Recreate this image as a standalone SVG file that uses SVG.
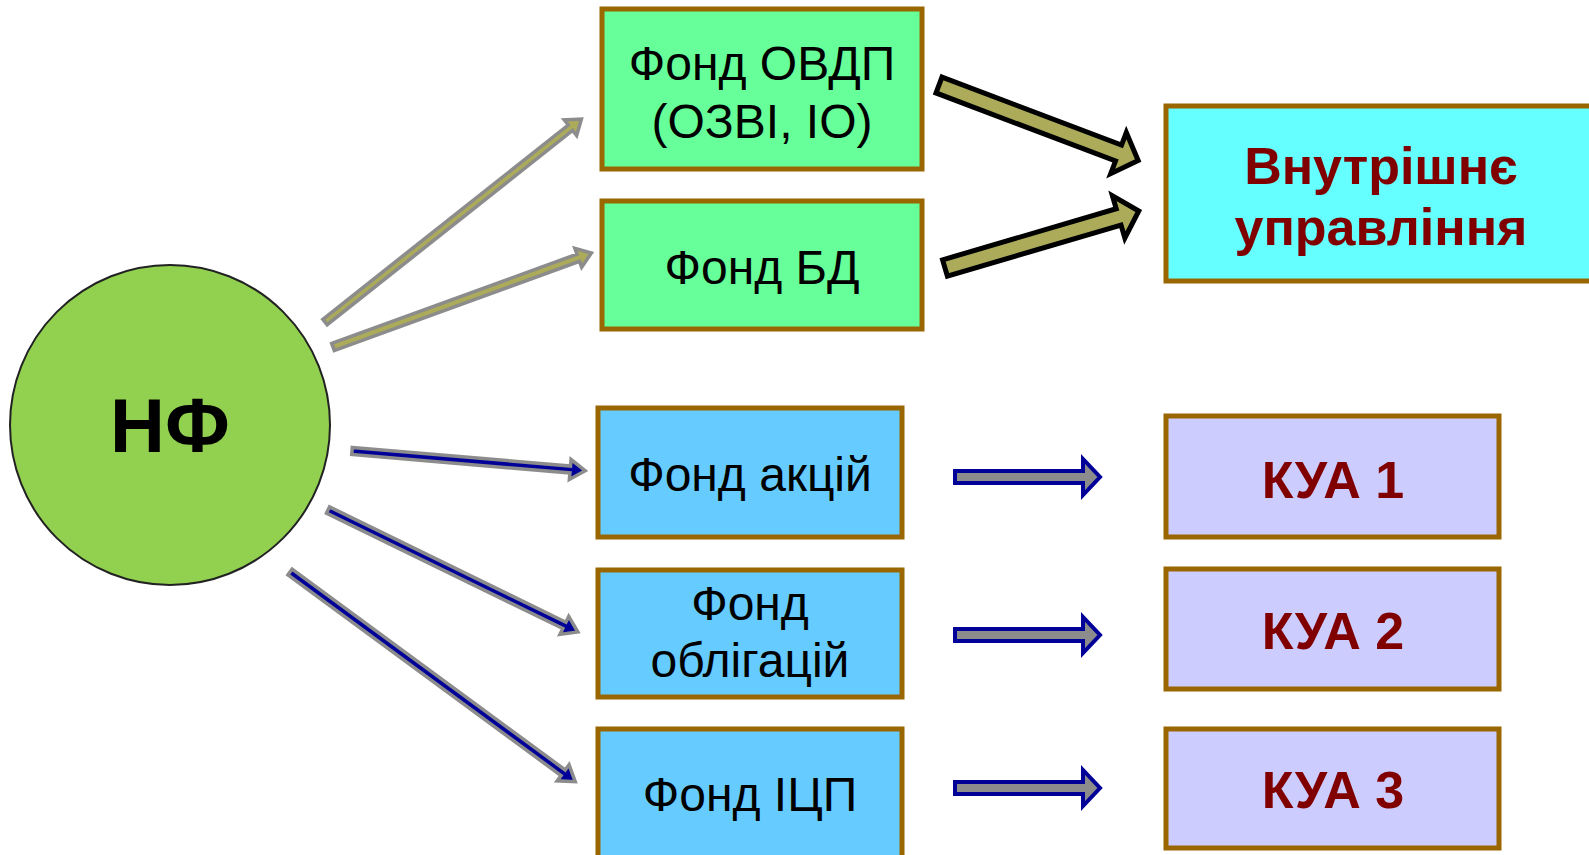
<svg xmlns="http://www.w3.org/2000/svg" width="1589" height="855" viewBox="0 0 1589 855">
<style>
.box{stroke:#996600;stroke-width:5}
.g{fill:#66FF99}.c{fill:#66FFFF}.b{fill:#66CCFF}.v{fill:#CCCCFF}
.t{font-family:"Liberation Sans",Arial,sans-serif;font-size:48px;fill:#000;text-anchor:middle}
.r{font-family:"Liberation Sans",Arial,sans-serif;font-size:52px;font-weight:bold;fill:#800000;text-anchor:middle}
.ag{fill:#ABAB5A;stroke:#8C8C8C;stroke-width:3.5;stroke-linejoin:miter}
.ao{fill:#ABAB5A;stroke:#000;stroke-width:5;stroke-linejoin:miter}
.ab{fill:#000099;stroke:#8C8C8C;stroke-width:3.5;stroke-linejoin:miter}
.ah{fill:#8C8C8C;stroke:#000099;stroke-width:4;stroke-linejoin:miter}
</style>
<rect width="1589" height="855" fill="#fff"/>
<g id="connectors">
<polygon class="ag" transform="translate(325,322) rotate(-38.36)" points="0,-3.5 313,-3.5 313,-10 327,0 313,10 313,3.5 0,3.5"/>
<polygon class="ag" transform="translate(333,347) rotate(-20)" points="0,-3.8 261,-3.8 261,-10 275,0 261,10 261,3.8 0,3.8"/>
<polygon class="ao" transform="translate(939,85) rotate(20.77)" points="0,-8.5 192,-8.5 192,-22 213,0 192,22 192,8.5 0,8.5"/>
<polygon class="ao" transform="translate(945,268) rotate(-16.4)" points="0,-8.5 181,-8.5 181,-22 202,0 181,22 181,8.5 0,8.5"/>
<polygon class="ab" transform="translate(352,451) rotate(4.84)" points="0,-3.5 219,-3.5 219,-10 234,0 219,10 219,3.5 0,3.5"/>
<polygon class="ab" transform="translate(328,510) rotate(26.02)" points="0,-3.5 263,-3.5 263,-10 278,0 263,10 263,3.5 0,3.5"/>
<polygon class="ab" transform="translate(290,572) rotate(36.32)" points="0,-3.5 339,-3.5 339,-10 354,0 339,10 339,3.5 0,3.5"/>
<polygon class="ah" transform="translate(955,477)" points="0,-6 128,-6 128,-18 145,0 128,18 128,6 0,6"/>
<polygon class="ah" transform="translate(955,635)" points="0,-6 128,-6 128,-18 145,0 128,18 128,6 0,6"/>
<polygon class="ah" transform="translate(955,788)" points="0,-6 128,-6 128,-18 145,0 128,18 128,6 0,6"/>
</g>
<g id="nf">
<circle cx="170" cy="425" r="160" fill="#92D050" stroke="#222" stroke-width="2"/>
<text x="170" y="452" font-family="Liberation Sans,Arial,sans-serif" font-size="76" font-weight="bold" text-anchor="middle" fill="#000">НФ</text>
</g>
<g id="fond-ovdp">
<rect class="box g" x="602" y="9" width="320" height="160"/>
<text class="t" x="762" y="80">Фонд ОВДП</text>
<text class="t" x="762" y="138">(ОЗВІ, ІО)</text>
</g>
<g id="fond-bd">
<rect class="box g" x="602" y="201" width="320" height="128"/>
<text class="t" x="762" y="284">Фонд БД</text>
</g>
<g id="vnutr">
<rect class="box c" x="1166" y="106" width="430" height="175"/>
<text class="r" x="1381" y="184" font-size="51">Внутрішнє</text>
<text class="r" x="1381" y="245" font-size="51">управління</text>
</g>
<g id="fond-akcij">
<rect class="box b" x="598" y="408" width="304" height="129"/>
<text class="t" x="750" y="491">Фонд акцій</text>
</g>
<g id="fond-oblig">
<rect class="box b" x="598" y="570" width="304" height="127"/>
<text class="t" x="750" y="620">Фонд</text>
<text class="t" x="750" y="677">облігацій</text>
</g>
<g id="fond-icp">
<rect class="box b" x="598" y="729" width="304" height="140"/>
<text class="t" x="750" y="811">Фонд ІЦП</text>
</g>
<g id="kua1">
<rect class="box v" x="1166" y="416" width="333" height="121"/>
<text class="r" x="1333" y="498">КУА 1</text>
</g>
<g id="kua2">
<rect class="box v" x="1166" y="569" width="333" height="120"/>
<text class="r" x="1333" y="649">КУА 2</text>
</g>
<g id="kua3">
<rect class="box v" x="1166" y="729" width="333" height="119"/>
<text class="r" x="1333" y="808">КУА 3</text>
</g>
</svg>
